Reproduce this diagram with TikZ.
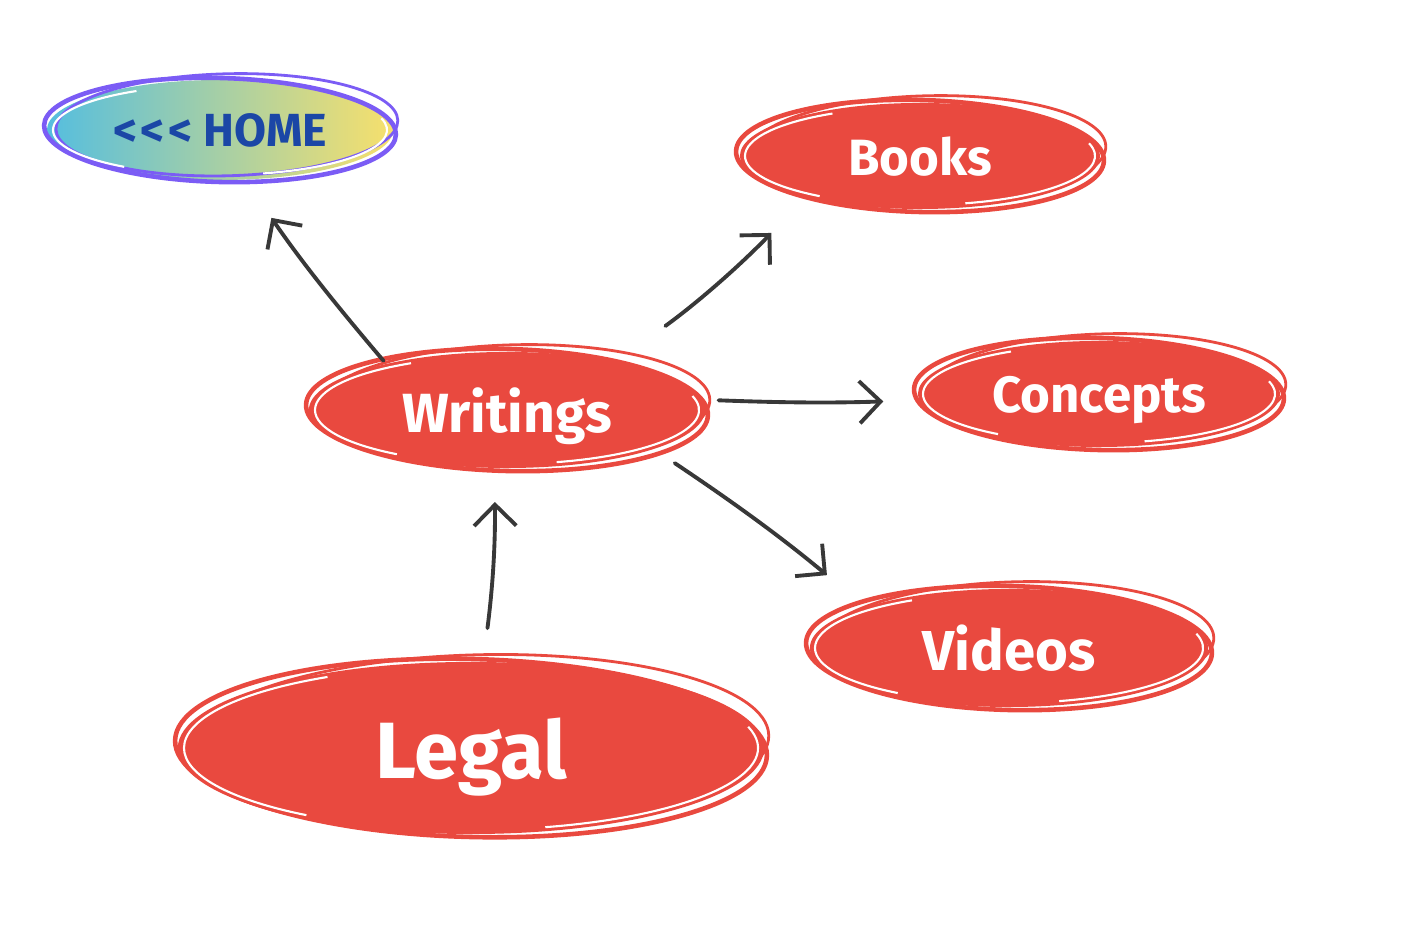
\documentclass[tikz,border=0pt]{standalone}
\usepackage{fontspec}
\setmainfont{Fira Sans}
\usetikzlibrary{shapes.geometric,arrows.meta}
\definecolor{bubblered}{HTML}{E9493F}
\definecolor{homepurple}{HTML}{7B5CF5}
\definecolor{homecyan}{HTML}{55BEDF}
\definecolor{homeyellow}{HTML}{F7E06C}
\definecolor{homeblue}{HTML}{1B47A6}
\definecolor{arrowgray}{HTML}{383838}
% hand drawn outline round a bubble: node, x radius, y radius, colour
\newcommand{\scribble}[4]{%
  \begin{scope}[shift={(#1.center)}]
    \pgfmathsetmacro{\ira}{#2-9}\pgfmathsetmacro{\irb}{#3-7}
    \draw[#4, line width=1.3pt, rotate=-1.5] (0,0) ellipse [x radius=#2, y radius=#3];
    \draw[#4, line width=0.8pt, rotate=1.5] (7,5) ellipse [x radius=#2-5, y radius=#3-1];
    \draw[white, line width=0.6pt] ({\ira*cos(120)},{\irb*sin(120)}) arc[start angle=120, end angle=235, x radius=\ira, y radius=\irb];
    \draw[white, line width=0.6pt] ({\ira*cos(285)},{\irb*sin(285)}) arc[start angle=285, end angle=375, x radius=\ira, y radius=\irb];
  \end{scope}}

\begin{document}
\begin{tikzpicture}[
x=0.01cm, y=0.01cm,
bubble/.style={ellipse, fill=bubblered, text=white, inner sep=0pt, text depth=0pt},
homebubble/.style={ellipse, left color=homecyan, right color=homeyellow, text=homeblue, inner sep=0pt, text depth=0pt},
arw/.style={draw=arrowgray, line width=1.1pt, line cap=round, -{Straight Barb[length=6pt,width=12pt,line width=1.1pt]}}
]
\useasboundingbox (0,0) rectangle (1402,928);
\node[homebubble, minimum width=3.46cm, minimum height=1.0cm, font=\bfseries\fontsize{13.2}{15}\selectfont] (home) at (220,798) {<\kern1pt<\kern1pt< HOME};
\node[bubble, minimum width=3.6cm, minimum height=1.06cm, font=\bfseries\fontsize{14.5}{17}\selectfont] (books) at (920,772) {Books};
\node[bubble, minimum width=3.62cm, minimum height=1.06cm, font=\bfseries\fontsize{14.5}{17}\selectfont] (concepts) at (1099,534) {Concepts};
\node[bubble, minimum width=3.96cm, minimum height=1.16cm, font=\bfseries\fontsize{15.7}{18}\selectfont] (writings) at (507,518) {Writings};
\node[bubble, minimum width=3.98cm, minimum height=1.18cm, font=\bfseries\fontsize{16}{19}\selectfont] (videos) at (1009,280) {Videos};
\node[bubble, minimum width=5.86cm, minimum height=1.72cm, font=\bfseries\fontsize{22.7}{26}\selectfont] (legal) at (471,180) {Legal};
\scribble{home}{176}{52}{homepurple}
\scribble{books}{184}{56}{bubblered}
\scribble{concepts}{185}{56}{bubblered}
\scribble{writings}{201}{61}{bubblered}
\scribble{videos}{203}{62}{bubblered}
\scribble{legal}{296}{89}{bubblered}
% connectors
\draw[arw, shorten <=1pt, shorten >=13pt] (writings.159) to[bend left=3] (home.-63);
\draw[arw, shorten <=17pt, shorten >=14pt] (writings.24) to[bend right=5] (books.200);
\draw[arw, shorten <=4.5pt, shorten >=10pt] (writings.3) to[bend right=2] (concepts.182);
\draw[arw, shorten <=7pt, shorten >=14pt] (writings.-15) to[bend left=3] (videos.164);
\draw[arw, shorten <=9.5pt, shorten >=9.5pt] (legal.82) to[bend right=4] (writings.-102);
\end{tikzpicture}
\end{document}
